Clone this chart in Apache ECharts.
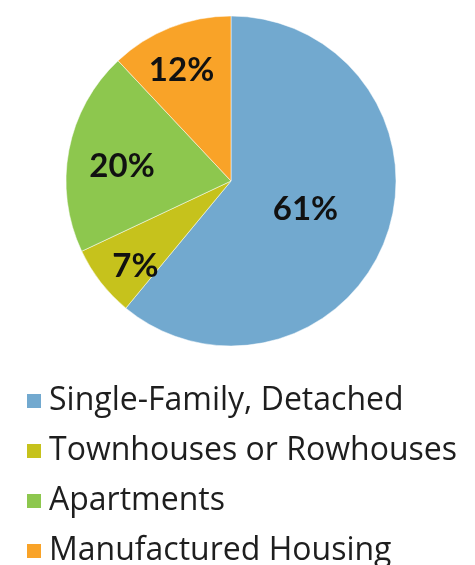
<!DOCTYPE html>
<html>
<head>
<meta charset="utf-8">
<script src="https://cdn.jsdelivr.net/npm/echarts@6/dist/echarts.min.js"></script>
<style>
    html, body { margin: 0; padding: 0; background: #fff; }
    #chart { width: 475px; height: 565px; }
</style>
</head>
<body>
<div id="chart"></div>
<script>
    // 住房类型占比
    var categories = ['Single-Family, Detached', 'Townhouses or Rowhouses', 'Apartments', 'Manufactured Housing'];
    var shares = [61, 7, 20, 12];

    var colors = ['#72a9cf', '#c6c21c', '#8dc74e', '#f9a328'];
    // 标签微调，贴近原图位置
    var labelOffsets = [[-6, -1], [-28, 33], [-25, 1], [-18, -31]];

    var myChart = echarts.init(document.getElementById('chart'));
    var pieData = categories.map(function (name, i) {
        return {
            name: name,
            value: shares[i],
            label: { offset: labelOffsets[i] }
        };
    });

    var option = {
        color: colors,
        animation: false,
        legend: {
            orient: 'vertical',
            left: 20,
            top: 380,
            height: 190,
            icon: 'rect',
            itemWidth: 16,
            itemHeight: 16,
            itemGap: 18,
            textStyle: {
                fontFamily: 'Open Sans',
                fontSize: 32,
                color: '#1e1e1e',
                padding: [0, 0, 0, 2]
            },
            data: categories
        },
        series: [{
            type: 'pie',
            center: [231, 181],
            radius: 165,
            startAngle: 90,
            clockwise: true,
            data: pieData,
            itemStyle: {
                borderColor: '#ffffff',
                borderWidth: 0.5
            },
            label: {
                show: true,
                position: 'inside',
                formatter: '{c}%',
                fontFamily: 'Lato',
                fontWeight: 'bold',
                fontSize: 33,
                color: '#111'
            },
            labelLine: { show: false },
            emphasis: { disabled: true }
        }]
    };
    myChart.setOption(option);
</script>
</body>
</html>
